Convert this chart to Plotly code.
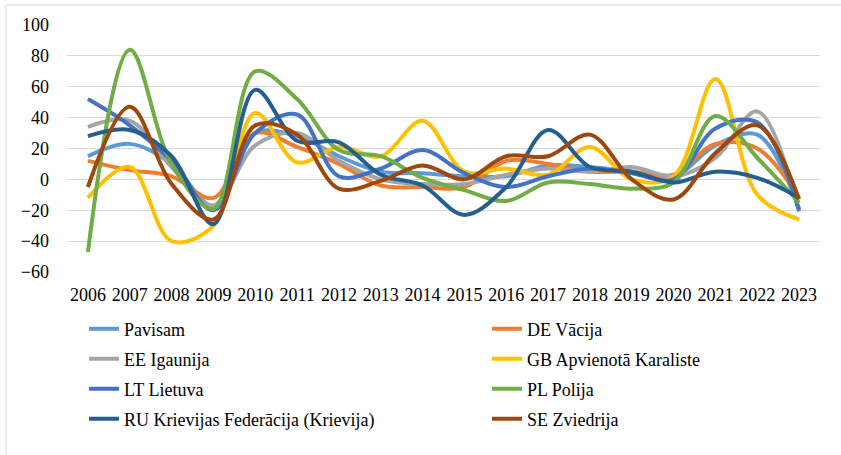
import plotly.graph_objects as go

years = [str(y) for y in range(2006, 2024)]

pavisam = [15, 23, 10, -17, 30, 28, 15, 5, 4, 2, 2, 9, 8, 5, 2, 22, 29, -19]
de_vacija = [12, 6, 2, -12, 30, 21, 10, -4, -5, -5, 12, 10, 5, 5, 3, 23, 20, -12]
ee_igaunija = [34, 38, 8, -17, 22, 30, 12, 0, -3, -3, 3, 7, 5, 8, 2, 14, 44, -21]
gb_karaliste = [-12, 8, -40, -30, 43, 11, 21, 15, 38, 5, 7, 3, 21, 0, 2, 65, -10, -26]
lt_lietuva = [52, 35, 12, -20, 30, 42, 2, 7, 19, 4, -5, 2, 7, 4, 0, 33, 37, -20]
pl_polija = [-47, 84, 10, -19, 70, 52, 19, 15, 1, -7, -14, -2, -3, -6, -2, 41, 14, -15]
ru_krievija = [28, 32, 15, -29, 58, 25, 24, 3, -4, -23, -5, 32, 8, 5, -2, 5, 1, -12]
se_zviedrija = [-5, 47, -3, -26, 35, 29, -6, -1, 9, 0, 15, 15, 29, 0, -13, 17, 35, -13]

series = [
    ("Pavisam", pavisam, "#5B9BD5"),
    ("DE Vācija", de_vacija, "#ED7D31"),
    ("EE Igaunija", ee_igaunija, "#A5A5A5"),
    ("GB Apvienotā Karaliste", gb_karaliste, "#FFC000"),
    ("LT Lietuva", lt_lietuva, "#4472C4"),
    ("PL Polija", pl_polija, "#70AD47"),
    ("RU Krievijas Federācija (Krievija)", ru_krievija, "#255E91"),
    ("SE Zviedrija", se_zviedrija, "#9E480E"),
]

FAM = "Liberation Serif"
font = dict(family=FAM, size=18, color="#000000")

W, H = 841, 455
PL, PR, PT, PB = 67, 820, 25, 272  # plot area in pixels
def px_x(px):
    return (px - PL) / (PR - PL)
def px_y(py):
    return (PB - py) / (PB - PT)

fig = go.Figure()
legend_layouts = {}
for i, (name, vals, col) in enumerate(series):
    key = "legend" if i == 0 else f"legend{i + 1}"
    fig.add_trace(go.Scatter(
        x=years, y=vals, name=name, mode="lines",
        line=dict(color=col, width=4, shape="spline", smoothing=1.0),
        legend=key,
    ))
    colx = 84 if i % 2 == 0 else 487
    rowy = 329 + 30 * (i // 2)
    legend_layouts[key] = dict(
        x=px_x(colx), y=px_y(rowy), xanchor="left", yanchor="middle",
        orientation="v", font=font, bgcolor="rgba(0,0,0,0)",
        borderwidth=0,
    )

fig.update_layout(
    width=W, height=H,
    margin=dict(l=PL, r=W - PR, t=PT, b=H - PB),
    paper_bgcolor="white", plot_bgcolor="white",
    font=font,
    showlegend=True,
    xaxis=dict(
        type="category", range=[-0.5, 17.5],
        showgrid=False, showline=False, zeroline=False,
        ticks="", tickfont=font, ticklabelstandoff=10,
    ),
    yaxis=dict(
        range=[-60, 100], dtick=20, tick0=0,
        showgrid=True, gridcolor="#D9D9D9", gridwidth=1,
        zeroline=False, showline=False, ticks="",
        tickfont=font, ticklabelstandoff=17,
    ),
    **legend_layouts,
)

fig.add_shape(type="rect", xref="paper", yref="paper",
              x0=px_x(6), x1=px_x(860),
              y0=px_y(480), y1=px_y(5),
              line=dict(color="#D9D9D9", width=1), fillcolor="rgba(0,0,0,0)",
              layer="below")

fig.write_html(
    "out.html",
    config={"displayModeBar": False},
    post_script="document.body.style.margin='0';document.body.style.overflow='hidden';",
)
